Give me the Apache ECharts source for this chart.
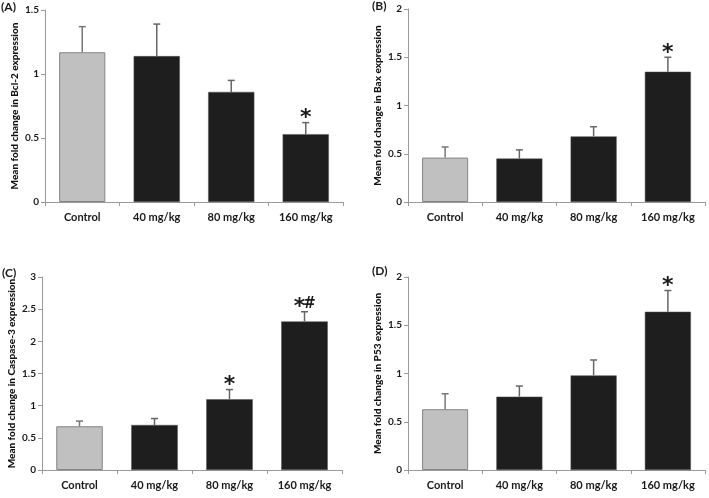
<!DOCTYPE html>
<html><head><meta charset="utf-8">
<script src="https://cdn.jsdelivr.net/npm/echarts@6/dist/echarts.min.js"></script>
<style>html,body{margin:0;padding:0;background:#fff}#c{width:709px;height:498px}</style>
</head><body><div id="c"></div>
<script>
var categories = ['Control', '40 mg/kg', '80 mg/kg', '160 mg/kg'];
var bcl2Mean = [1.17, 1.14, 0.86, 0.53];
var bcl2Err = [0.20, 0.25, 0.09, 0.09];
var bcl2Sig = ['', '', '', '*'];
var baxMean = [0.46, 0.45, 0.68, 1.35];
var baxErr = [0.11, 0.09, 0.10, 0.15];
var baxSig = ['', '', '', '*'];
var casp3Mean = [0.68, 0.70, 1.10, 2.31];
var casp3Err = [0.08, 0.10, 0.15, 0.15];
var casp3Sig = ['', '', '*', '*#'];
var p53Mean = [0.63, 0.76, 0.98, 1.64];
var p53Err = [0.16, 0.11, 0.16, 0.22];
var p53Sig = ['', '', '', '*'];

var panels = [
  {tag: '(A)', title: 'Mean fold change in Bcl-2 expression', mean: bcl2Mean, err: bcl2Err, sig: bcl2Sig, max: 1.5, interval: 0.5,
   grid: {left: 45, top: 10, width: 298, height: 192}, tagPos: [1, 1]},
  {tag: '(B)', title: 'Mean fold change in Bax expression', mean: baxMean, err: baxErr, sig: baxSig, max: 2, interval: 0.5,
   grid: {left: 408, top: 9, width: 297, height: 193}, tagPos: [372, 0]},
  {tag: '(C)', title: 'Mean fold change in Caspase-3 expression', mean: casp3Mean, err: casp3Err, sig: casp3Sig, max: 3, interval: 0.5,
   grid: {left: 42, top: 277, width: 300, height: 193}, tagPos: [2, 267]},
  {tag: '(D)', title: 'Mean fold change in P53 expression', mean: p53Mean, err: p53Err, sig: p53Sig, max: 2, interval: 0.5,
   grid: {left: 408, top: 277, width: 297, height: 193}, tagPos: [372, 265]}
];

var FONT = 'Lato, "Open Sans", sans-serif';
var axisColor = '#9a9a9a';
var option = {backgroundColor: '#fff', animation: false, grid: [], xAxis: [], yAxis: [], series: [], graphic: []};

panels.forEach(function (p, k) {
  option.grid.push(p.grid);
  option.xAxis.push({
    type: 'category', gridIndex: k, data: categories, boundaryGap: true,
    axisLine: {lineStyle: {color: axisColor, width: 1}},
    axisTick: {show: true, length: 4, lineStyle: {color: axisColor}},
    axisLabel: {color: '#1a1a1a', fontFamily: FONT, fontWeight: 'bold', fontSize: 11, margin: 10}
  });
  option.yAxis.push({
    type: 'value', gridIndex: k, min: 0, max: p.max, interval: p.interval,
    name: p.title, nameLocation: 'middle', nameGap: 25,
    nameTextStyle: {color: '#111', fontFamily: FONT, fontWeight: 900, fontSize: 10},
    axisLine: {show: true, lineStyle: {color: axisColor, width: 1}},
    axisTick: {show: true, length: 4, lineStyle: {color: axisColor}},
    axisLabel: {color: '#1a1a1a', fontFamily: FONT, fontWeight: 'bold', fontSize: 10, margin: 6},
    splitLine: {show: false}
  });
  option.series.push({
    type: 'bar', xAxisIndex: k, yAxisIndex: k, barWidth: '62%',
    data: p.mean.map(function (v, i) {
      return i === 0
        ? {value: v, itemStyle: {color: '#c0c0c0', borderColor: '#858585', borderWidth: 1}}
        : {value: v, itemStyle: {color: '#1e1e1e', borderColor: '#555', borderWidth: 0.5}};
    })
  });
  option.series.push({
    type: 'custom', xAxisIndex: k, yAxisIndex: k, z: 5,
    data: p.mean.map(function (v, i) { return [i, v, v + p.err[i]]; }),
    renderItem: function (params, api) {
      var i = api.value(0);
      var base = api.coord([i, api.value(1)]);
      var top = api.coord([i, api.value(2)]);
      var cap = 3.5;
      var col = i === 0 ? '#777' : '#666';
      var children = [
        {type: 'line', shape: {x1: base[0], y1: base[1], x2: top[0], y2: top[1]}, style: {stroke: col, lineWidth: 1.5}},
        {type: 'line', shape: {x1: top[0] - cap, y1: top[1], x2: top[0] + cap, y2: top[1]}, style: {stroke: col, lineWidth: 1.5}}
      ];
      var s = p.sig[i];
      if (s) {
        var chars = s.split('');
        var w = 10;
        var x0 = top[0] - (chars.length - 1) * w / 2;
        chars.forEach(function (ch, j) {
          var isStar = ch === '*';
          children.push({type: 'text', x: x0 + j * w, y: isStar ? top[1] - 4 : top[1] - 8,
            style: {text: ch, fill: '#1a1a1a',
              font: isStar ? 'bold 22px "DejaVu Sans", sans-serif' : 'bold 15px "DejaVu Sans", sans-serif',
              align: 'center', verticalAlign: 'middle'}});
        });
      }
      return {type: 'group', children: children};
    }
  });
  option.graphic.push({type: 'text', left: p.tagPos[0], top: p.tagPos[1],
    style: {text: p.tag, fill: '#1a1a1a', font: 'bold 12px ' + FONT}});
});

var chart = echarts.init(document.getElementById('c'), null, {renderer: 'canvas'});
chart.setOption(option);
</script></body></html>
